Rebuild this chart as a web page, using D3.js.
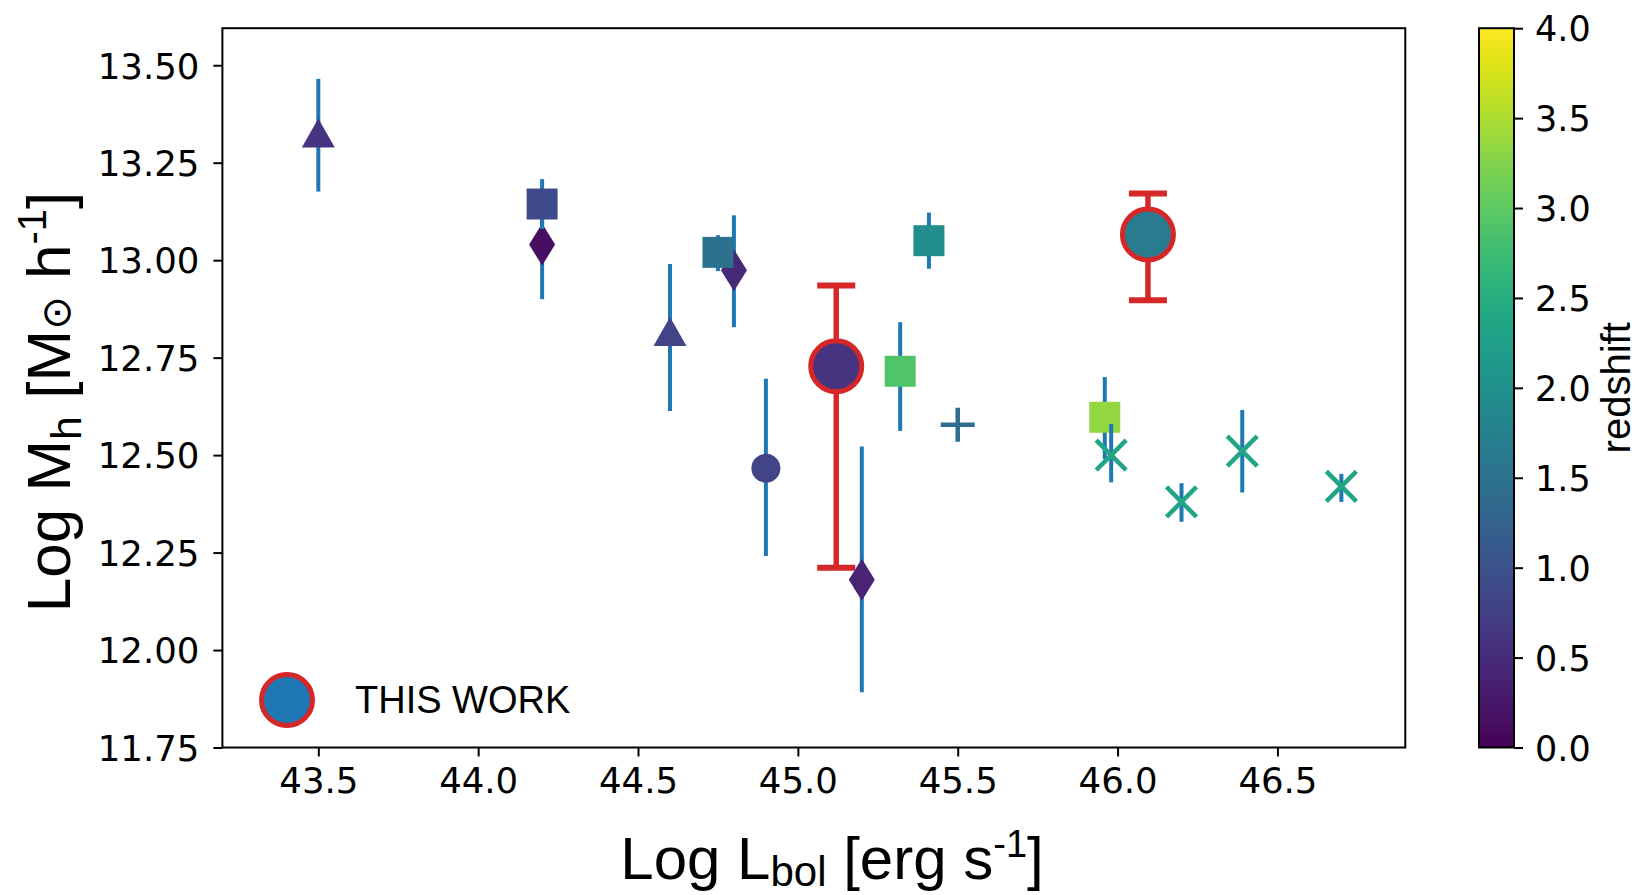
<!DOCTYPE html>
<html><head><meta charset="utf-8">
<script src="https://cdn.jsdelivr.net/npm/d3@7"></script>
<style>body{margin:0;background:#fff}</style>
</head><body>
<svg id="c" width="1637" height="895"></svg>
<script>
// ---- literature points ----
const litX   = [43.50, 44.20, 44.20, 44.60, 44.80, 44.75, 44.90, 45.20, 45.32, 45.50, 45.41, 45.96, 45.98, 46.20, 46.39, 46.70];
const litY   = [13.326, 13.040, 13.144, 12.817, 12.974, 13.020, 12.466, 12.180, 12.715, 12.578, 13.050, 12.597, 12.500, 12.380, 12.510, 12.420];
const litLo  = [13.176, 12.900, 13.080, 12.613, 12.828, 12.972, 12.241, 11.892, 12.562, null, 12.978, 12.490, 12.430, 12.329, 12.404, 12.380];
const litHi  = [13.465, 13.180, 13.208, 12.990, 13.115, 13.064, 12.696, 12.522, 12.841, null, 13.122, 12.700, 12.580, 12.428, 12.616, 12.452];
const litZ   = [0.6, 0.15, 0.9, 0.8, 0.45, 1.5, 0.8, 0.4, 2.9, 1.4, 1.95, 3.35, 2.35, 2.35, 2.35, 2.35];
const litMk  = ["tri","dia","sq","tri","dia","sq","circ","dia","sq","plus","sq","sq","x","x","x","x"];
// ---- this work ----
const twX  = [45.12, 46.095];
const twY  = [12.728, 13.066];
const twLo = [12.211, 12.897];
const twHi = [12.935, 13.171];
const twZ  = [0.6, 1.65];
// ---- ticks ----
const xTicks = [43.5, 44.0, 44.5, 45.0, 45.5, 46.0, 46.5];
const yTicks = [11.75, 12.00, 12.25, 12.50, 12.75, 13.00, 13.25, 13.50];
const zTicks = [0, 0.5, 1, 1.5, 2, 2.5, 3, 3.5, 4];

const svg = d3.select("#c");
const L = 222.4, R = 1405.3, T = 28.2, B = 747.5;
const x = d3.scaleLinear().domain([43.2, 46.9]).range([L, R]);
const y = d3.scaleLinear().domain([11.75, 13.595]).range([B, T]);
const col = d3.scaleSequential(d3.interpolateViridis).domain([0, 4]);
const tickFont = "'DejaVu Sans', sans-serif";
const labFont = "'Liberation Sans', Arial, sans-serif";

// axes
const gx = svg.append("g").attr("transform", `translate(0,${B})`)
  .call(d3.axisBottom(x).tickValues(xTicks).tickFormat(d3.format(".1f")).tickSize(9).tickPadding(10));
const gy = svg.append("g").attr("transform", `translate(${L},0)`)
  .call(d3.axisLeft(y).tickValues(yTicks).tickFormat(d3.format(".2f")).tickSize(9).tickPadding(14));
[gx, gy].forEach(g => {
  g.select(".domain").remove();
  g.selectAll(".tick line").attr("stroke", "#000").attr("stroke-width", 2);
  g.selectAll(".tick text").attr("font-family", tickFont).attr("font-size", 35.5).attr("fill", "#000");
});
gx.selectAll(".tick text").attr("dy", "0.75em");
gy.selectAll(".tick text").attr("dy", "0.36em");

// frame
svg.append("rect").attr("x", L).attr("y", T).attr("width", R - L).attr("height", B - T)
  .attr("fill", "none").attr("stroke", "#000").attr("stroke-width", 2);

const plot = svg.append("g");

function markerPath(t) {
  switch (t) {
    case "sq": return "M-15.5,-15.5H15.5V15.5H-15.5Z";
    case "tri": return "M0,-14.5L16.5,14.5H-16.5Z";
    case "dia": return "M0,-21L13,0L0,21L-13,0Z";
    case "circ": return d3.arc()({innerRadius:0, outerRadius:14.5, startAngle:0, endAngle:2*Math.PI});
    case "plus": return "M-17,0H17M0,-17V17";
    case "x": return "M-15,-15L15,15M15,-15L-15,15";
  }
}

litX.forEach((xv, i) => {
  if (litLo[i] !== null) {
    plot.append("line").attr("x1", x(xv)).attr("x2", x(xv))
      .attr("y1", y(litLo[i])).attr("y2", y(litHi[i]))
      .attr("stroke", "#1f77b4").attr("stroke-width", 4);
  }
  const t = litMk[i];
  const p = plot.append("path").attr("d", markerPath(t))
    .attr("transform", `translate(${x(xv)},${y(litY[i])})`);
  if (t === "plus" || t === "x") {
    p.attr("fill", "none").attr("stroke", col(litZ[i])).attr("stroke-width", 4.5);
  } else {
    p.attr("fill", col(litZ[i]));
  }
});

// this work
const red = "#d62728";
twX.forEach((xv, i) => {
  const cx = x(xv);
  plot.append("line").attr("x1", cx).attr("x2", cx).attr("y1", y(twLo[i])).attr("y2", y(twHi[i]))
    .attr("stroke", red).attr("stroke-width", 5.5);
  [twLo[i], twHi[i]].forEach(v => {
    plot.append("line").attr("x1", cx - 19).attr("x2", cx + 19).attr("y1", y(v)).attr("y2", y(v))
      .attr("stroke", red).attr("stroke-width", 6);
  });
  plot.append("circle").attr("cx", cx).attr("cy", y(twY[i])).attr("r", 25.5)
    .attr("fill", col(twZ[i])).attr("stroke", red).attr("stroke-width", 5);
});

// legend
svg.append("circle").attr("cx", 287).attr("cy", 700).attr("r", 25.5)
  .attr("fill", "#1f77b4").attr("stroke", red).attr("stroke-width", 5);
svg.append("text").attr("x", 355).attr("y", 713).attr("font-family", labFont)
  .attr("font-size", 38).attr("fill", "#000").text("THIS WORK");

// x label
const xl = svg.append("text").attr("x", 832).attr("y", 879).attr("text-anchor", "middle")
  .attr("font-family", labFont).attr("font-size", 60).attr("fill", "#000");
xl.append("tspan").text("Log L");
xl.append("tspan").attr("font-size", 42).attr("dy", 7).text("bol");
xl.append("tspan").attr("dy", -7).text(" [erg s");
xl.append("tspan").attr("font-size", 38).attr("dy", -22).text("-1");
xl.append("tspan").attr("dy", 22).text("]");

// y label
const yl = svg.append("text").attr("transform", "translate(70,402) rotate(-90)").attr("text-anchor", "middle")
  .attr("font-family", labFont).attr("font-size", 62).attr("fill", "#000");
yl.append("tspan").text("Log M");
yl.append("tspan").attr("font-size", 43).attr("dy", 11).text("h");
yl.append("tspan").attr("dy", -11).text(" [M");
yl.append("tspan").attr("font-size", 40).attr("font-family", "'DejaVu Sans', sans-serif").text("\u2299");
yl.append("tspan").text(" h");
yl.append("tspan").attr("font-size", 40).attr("dy", -24).text("-1");
yl.append("tspan").attr("dy", 24).text("]");

// colorbar
const cbL = 1479, cbW = 35;
const grad = svg.append("defs").append("linearGradient").attr("id", "vir")
  .attr("x1", 0).attr("y1", 1).attr("x2", 0).attr("y2", 0);
d3.range(0, 1.0001, 0.02).forEach(t => grad.append("stop").attr("offset", t).attr("stop-color", d3.interpolateViridis(t)));
const cy = d3.scaleLinear().domain([0, 4]).range([B, T]);
svg.append("rect").attr("x", cbL).attr("y", T).attr("width", cbW).attr("height", B - T)
  .attr("fill", "url(#vir)").attr("stroke", "#000").attr("stroke-width", 2);
const gc = svg.append("g").attr("transform", `translate(${cbL + cbW},0)`)
  .call(d3.axisRight(cy).tickValues(zTicks).tickFormat(d3.format(".1f")).tickSize(9).tickPadding(12));
gc.select(".domain").remove();
gc.selectAll(".tick line").attr("stroke", "#000").attr("stroke-width", 2);
gc.selectAll(".tick text").attr("font-family", tickFont).attr("font-size", 35).attr("fill", "#000").attr("dy", "0.36em");
svg.append("text").attr("transform", `translate(1630,${(T + B) / 2}) rotate(-90)`).attr("text-anchor", "middle")
  .attr("font-family", labFont).attr("font-size", 40).attr("fill", "#000").text("redshift");
</script>
</body></html>
